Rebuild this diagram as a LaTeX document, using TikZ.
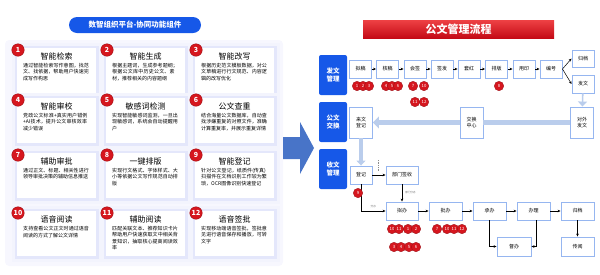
\documentclass[tikz,border=0pt]{standalone}
\usepackage{fontspec}
\setmainfont{Noto Sans CJK SC}
\XeTeXlinebreaklocale "zh"
\XeTeXlinebreakskip=0pt plus 0.5pt
\usetikzlibrary{arrows.meta,positioning,calc}

\definecolor{deepblue}{RGB}{22,88,232}
\definecolor{lineblue}{RGB}{150,182,240}
\definecolor{paleblue}{RGB}{186,205,236}
\definecolor{badgered}{RGB}{214,22,30}
\definecolor{bannertop}{RGB}{236,62,66}
\definecolor{bannerbot}{RGB}{196,10,22}
\definecolor{arrowblue}{RGB}{72,116,200}
\definecolor{haze}{RGB}{228,231,251}
\definecolor{panelbg}{RGB}{247,247,254}

\begin{document}
\begin{tikzpicture}[x=1pt,y=-1pt,
  card/.style={fill=white, minimum width=79, minimum height=45, anchor=north west, inner sep=0,
    preaction={draw=haze!45, line width=11},
    preaction={draw=haze, line width=5}},
  ctitle/.style={font=\fontsize{8}{9}\selectfont, inner sep=0},
  cbody/.style={font=\fontsize{5}{6.2}\selectfont, text width=67, align=left, inner sep=0},
  cnum/.style={circle, fill=badgered, draw=badgered!75!black, line width=0.4, text=white,
    inner sep=0, minimum size=12.5, font=\bfseries\fontsize{7}{7}\selectfont},
  fbox/.style={draw=lineblue, line width=0.9, fill=white, inner sep=1, align=center,
    minimum height=18, font=\fontsize{5}{6}\selectfont},
  side/.style={fill=deepblue, text=white, rounded corners=2, minimum width=28, minimum height=40,
    align=center, font=\bfseries\fontsize{6.5}{8.5}\selectfont},
  num/.style={circle, fill=badgered, draw=badgered!70!black, line width=0.3, text=white,
    inner sep=0, minimum size=9.5, font=\fontsize{4.3}{5}\selectfont},
  flow/.style={-{Stealth[length=3pt,width=2.6pt]}, line width=0.5},
  swap/.style={paleblue, -{Triangle[length=5pt,width=9pt]}},
  tiny/.style={font=\fontsize{2.6}{3}\selectfont, text=black!60, inner sep=0}]
\useasboundingbox (0,0) rectangle (600,274);

% left panel
\fill[panelbg, rounded corners=4] (5,40) rectangle (283,266);
\node[fill=deepblue, rounded corners=8, minimum width=132, minimum height=16, text=white,
  font=\bfseries\fontsize{7.5}{8}\selectfont] (ptitle) at (135,25) {数智组织平台-协同功能组件};

\foreach \n/\x/\y/\ttl/\txt in {
  1/17/48/智能检索/{通过智能检索写作意图，找范文、找依据，帮助用户快速完成写作构思},
  2/106/48/智能生成/{根据主题词，生成参考题纲；根据公文库中历史公文、素材，推荐相关的内容题纲},
  3/195/48/智能改写/{根据历史范文模板数据，对公文草稿进行行文规范、内容逻辑的改写优化},
  4/17/98/智能审校/{党政公文标准+真实用户错例+AI技术，提升公文审核效率减少错误},
  5/106/98/敏感词检测/{实现智能敏感词监测，一旦出现敏感词，系统会自动提醒用户},
  6/195/98/公文查重/{结合海量公文数据库，自动查找涉嫌重复的对照文件，准确计算重复率，并展示重复详情},
  7/17/153/辅助审批/{通过正文、标题、相关性进行领导审批决策的辅助信息推送},
  8/106/153/一键排版/{实现行文格式、字体样式、大小等依据公文写作规范自动排版},
  9/195/153/智能登记/{针对公文登记，纸质件(传真)扫描件在文档识别工作较为繁琐，OCR图像识别快速登记},
  10/17/211/语音阅读/{支持查看公文正文时通过语音阅读的方式了解公文详情},
  11/106/211/辅助阅读/{匹配关联文本、推荐知识卡片帮助用户快速获取文中相关背景知识，抽取核心提高阅读效率},
  12/195/211/语音签批/{实现移动端语音签批，签批意见进行语音保存和播放，可转文字}} {
  \node[card] (c\n) at (\x,\y) {};
  \node[ctitle, below=5pt of c\n.north] (t\n) {\ttl};
  \node[cbody, below=2.5pt of t\n] (d\n) {\txt};
  \node[cnum] (k\n) at (\x+1,\y+2) {\n};
}

% big arrow
\fill[arrowblue] (283,137) -- (300,137) -- (300,122) -- (314,148) -- (300,174) -- (300,159) -- (283,159) -- cycle;

% right: flow
\node[fill=bannerbot, top color=bannertop, bottom color=bannerbot, minimum width=191, minimum height=17,
  text=white, font=\bfseries\fontsize{11}{12}\selectfont] (banner) at (458.5,29.5) {公文管理流程};

\node[side] (fawen) at (333,75) {发文\\管理};
\node[side] (jiaohuan) at (333,122) {公文\\交换};
\node[side] (shouwen) at (333,169) {收文\\管理};

\node[fbox, minimum width=22] (nigao) at (360.5,69) {拟稿};
\node[fbox, minimum width=22] (hegao) at (387.5,69) {核稿};
\node[fbox, minimum width=22] (huiqian) at (415,69) {会签};
\node[fbox, minimum width=22] (qianfa) at (442,69) {签发};
\node[fbox, minimum width=22] (taohong) at (469,69) {套红};
\node[fbox, minimum width=22] (paiban) at (496.5,69) {排版};
\node[fbox, minimum width=22] (yongyin) at (524,69) {用印};
\node[fbox, minimum width=22] (bianhao) at (551,69) {编号};
\node[fbox, minimum width=22, minimum height=17] (guidangA) at (583,58.5) {归档};
\node[fbox, minimum width=22] (fawenB) at (583,84) {发文};

\node[fbox, minimum width=23, minimum height=31] (laiwen) at (361,122.5) {来文\\登记};
\node[fbox, minimum width=23, minimum height=31] (zhongxin) at (471.5,122.5) {交换\\中心};
\node[fbox, minimum width=23, minimum height=31] (duiwai) at (582,122.5) {对外\\发文};

\node[fbox, minimum width=22] (dengji) at (361,175) {登记};
\node[fbox, minimum width=32] (qianshou) at (402,175) {部门签收};

\node[fbox, minimum width=32] (niban) at (402,211) {拟办};
\node[fbox, minimum width=33] (piban) at (445.5,211) {批办};
\node[fbox, minimum width=33] (chengban) at (489.5,211) {承办};
\node[fbox, minimum width=33] (banli) at (533.5,211) {办理};
\node[fbox, minimum width=33] (guidangB) at (577.5,211) {归档};
\node[fbox, minimum width=34, minimum height=19] (duban) at (514,246.5) {督办};
\node[fbox, minimum width=33, minimum height=19] (chuanyue) at (577.5,246.5) {传阅};

\draw[flow] (nigao) -- (hegao);
\draw[flow] (hegao) -- (huiqian);
\draw[flow] (huiqian) -- (qianfa);
\draw[flow] (qianfa) -- (taohong);
\draw[flow] (taohong) -- (paiban);
\draw[flow] (paiban) -- (yongyin);
\draw[flow] (yongyin) -- (bianhao);
\draw[flow] (bianhao.east) -- (guidangA.west);
\draw[flow] (bianhao.east) -- (fawenB.west);

\draw[swap, line width=1.6] (fawenB) -- (duiwai);
\draw[paleblue, line width=5] (duiwai) -- (zhongxin);
\draw[swap, line width=5, -{Triangle[length=6pt,width=12pt]}] (zhongxin) -- (laiwen);
\draw[swap, line width=3.5] (laiwen) -- (dengji);

\draw[flow] (dengji) -- (qianshou);
\draw[black!45, densely dotted, line width=0.7] (378,160) -- (378,171);
\draw[flow] (qianshou) -- (niban) node[tiny, midway, right=3pt] {部门分办};
\draw[flow] (dengji.south) |- (niban.west) node[tiny, pos=0.75, above=3pt] {分办};
\draw[flow] (niban) -- (piban);
\draw[flow] (piban) -- (chengban);
\draw[flow] (chengban) -- (banli);
\draw[flow] (banli) -- (guidangB);
\draw[flow] (chengban.south) |- (duban.west);
\draw[flow] ([xshift=3pt]banli.south) |- (duban.east);
\draw[flow] (guidangB) -- (chuanyue);

% which component serves which step
\foreach \x/\y/\n [count=\k] in {357/86/1, 363/86/2, 369/86/3, 386/86/4, 392/86/5, 398/86/6,
  413/86/7, 424/86/10, 499/86/8, 415/102/11, 424/102/12, 358/193/9,
  392/229/10, 399/229/11, 408/229/1, 416/229/2, 394/247/3, 401/247/4, 409/247/5, 416/247/6,
  437/229/7, 447/229/10, 454/229/11, 462/229/12} {
  \node[num] (b\k) at (\x,\y) {\n};
}
\end{tikzpicture}
\end{document}
